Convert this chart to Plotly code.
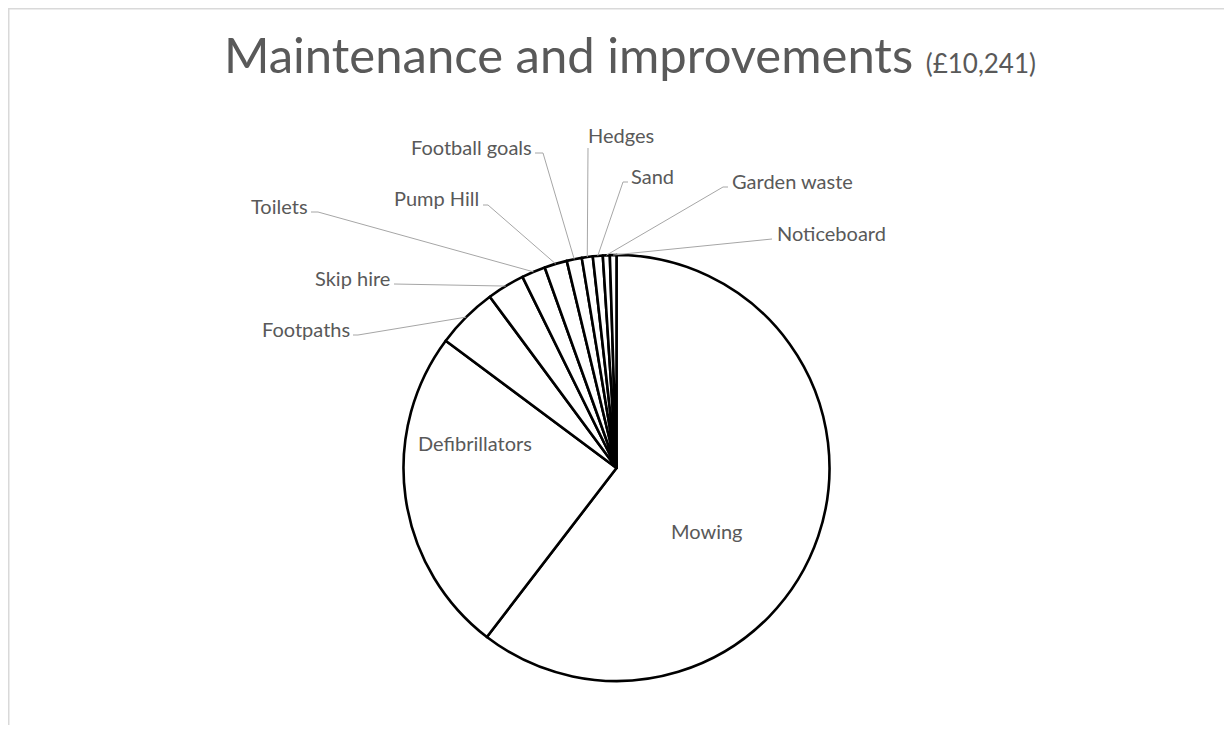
import math
import plotly.graph_objects as go

# ---- data ----
categories = ["Mowing", "Defibrillators", "Footpaths", "Skip hire", "Toilets",
              "Pump Hill", "Football goals", "Hedges", "Sand", "Garden waste",
              "Noticeboard"]
amounts = [6187, 2538, 478, 293, 185, 176, 117, 85, 77, 54, 51]
title_main = "Maintenance and improvements"

# ---- layout constants (page pixels; the page body adds an 8px margin) ----
OFF = 8
W, H = 1232 - 2 * OFF, 733 - 2 * OFF
CX, CY, R = 616.5, 468.0, 213.0
FONT = "Lato"
GREY = "#595959"

# label placement: (x, y, xanchor), leader start points (label side)
label_pos = {
    "Mowing": (707, 531, "center"),
    "Defibrillators": (474.5, 443, "center"),
    "Footpaths": (352, 329, "right"),
    "Skip hire": (392, 278, "right"),
    "Toilets": (310, 206, "right"),
    "Pump Hill": (481, 198, "right"),
    "Football goals": (534, 147, "right"),
    "Hedges": (586, 135, "left"),
    "Sand": (629, 176, "left"),
    "Garden waste": (730, 181, "left"),
    "Noticeboard": (775, 233, "left"),
}
leader_start = {
    "Footpaths": [(353, 335), (358, 335)],
    "Skip hire": [(394, 284)],
    "Toilets": [(311, 212), (318, 212)],
    "Pump Hill": [(483, 205), (488, 205)],
    "Football goals": [(535, 153), (543, 153)],
    "Hedges": [(588, 148)],
    "Sand": [(628, 182), (623, 182)],
    "Garden waste": [(728, 187), (723, 187)],
    "Noticeboard": [(772, 239)],
}


def px(x):
    return (x - OFF) / W


def py(y):
    return 1 - (y - OFF) / H


total = sum(amounts)

fig = go.Figure(go.Pie(
    labels=categories,
    values=amounts,
    sort=False,
    direction="clockwise",
    rotation=0,
    textinfo="none",
    hoverinfo="label+value+percent",
    marker=dict(colors=["#ffffff"] * len(categories),
                line=dict(color="#000000", width=2.6)),
    domain=dict(x=[px(CX - R), px(CX + R)], y=[py(CY + R), py(CY - R)]),
    showlegend=False,
))

annotations = []
shapes = []

# chart border
shapes.append(dict(type="rect", xref="paper", yref="paper",
                   x0=px(8.75), x1=1.2, y0=-0.2, y1=py(8.75),
                   line=dict(color="#d9d9d9", width=1.5), fillcolor="rgba(0,0,0,0)"))

cum = 0
for name, val in zip(categories, amounts):
    mid = (cum + val / 2) / total * 2 * math.pi
    cum += val
    ax = CX + R * math.sin(mid)
    ay = CY - R * math.cos(mid)
    lx, ly, anchor = label_pos[name]
    annotations.append(dict(
        text=name, x=px(lx), y=py(ly), xref="paper", yref="paper",
        xanchor=anchor, yanchor="middle", showarrow=False,
        font=dict(family=FONT, size=20, color=GREY)))
    if name in leader_start:
        pts = leader_start[name] + [(ax, ay)]
        path = "M " + " L ".join(f"{px(x)},{py(y)}" for x, y in pts)
        shapes.append(dict(type="path", xref="paper", yref="paper", path=path,
                           line=dict(color="#a6a6a6", width=1)))

annotations.append(dict(
    text=f"{title_main} <span style='font-size:26px'>(£{total:,})</span>",
    x=px(630), y=py(54), xref="paper", yref="paper",
    xanchor="center", yanchor="middle", showarrow=False,
    font=dict(family=FONT, size=49, color=GREY)))

fig.update_layout(
    width=W, height=H,
    margin=dict(l=0, r=0, t=0, b=0),
    paper_bgcolor="#ffffff",
    plot_bgcolor="#ffffff",
    annotations=annotations,
    shapes=shapes,
)

fig.write_html("out.html")
